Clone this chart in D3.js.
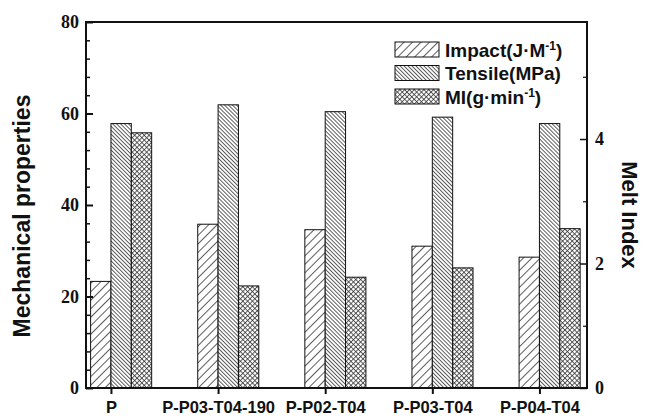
<!DOCTYPE html>
<html>
<head>
<meta charset="utf-8">
<script src="https://cdn.jsdelivr.net/npm/d3@7"></script>
<style>
  body { margin: 0; background: #fff; }
  svg { display: block; }
</style>
</head>
<body>
<div id="chart"></div>
<script>
const categories = ["P", "P-P03-T04-190", "P-P02-T04", "P-P03-T04", "P-P04-T04"];
const impact = [23.3, 35.8, 34.6, 31.0, 28.6];
const tensile = [57.8, 61.9, 60.4, 59.2, 57.8];
const meltIndex = [4.10, 1.64, 1.78, 1.93, 2.56];
const leftTicks = [0, 20, 40, 60, 80];
const leftMinor = [4, 8, 12, 16, 24, 28, 32, 36, 44, 48, 52, 56, 64, 68, 72, 76];
const rightTicks = [0, 2, 4];
const rightMinor = [1, 3, 5];

const width = 645;
const height = 418;
const plotLeft = 86, plotRight = 587, plotTop = 22, plotBottom = 388;

const svg = d3.select("#chart")
    .append("svg")
    .attr("width", width)
    .attr("height", height)
    .style("font-family", "Arial, 'Liberation Sans', sans-serif");

// hatch patterns
const defs = svg.append("defs");

function hatch(id, size, angle, cross) {
    const p = defs.append("pattern")
        .attr("id", id)
        .attr("patternUnits", "userSpaceOnUse")
        .attr("width", size)
        .attr("height", size)
        .attr("patternTransform", `rotate(${angle})`);
    p.append("rect").attr("width", size).attr("height", size).attr("fill", "#fff");
    p.append("line")
        .attr("x1", 0.5).attr("y1", 0).attr("x2", 0.5).attr("y2", size)
        .attr("stroke", "#333").attr("stroke-width", 0.8);
    if (cross) {
        p.append("line")
            .attr("x1", 0).attr("y1", 0.5).attr("x2", size).attr("y2", 0.5)
            .attr("stroke", "#333").attr("stroke-width", 0.8);
    }
}
hatch("pat-impact", 6, 45, false);
hatch("pat-tensile", 2.8, -45, false);
hatch("pat-mi", 3.4, 45, true);

const fills = ["url(#pat-impact)", "url(#pat-tensile)", "url(#pat-mi)"];

const x = d3.scaleLinear()
    .domain([-0.233, 4.444])
    .range([plotLeft, plotRight]);

const y = d3.scaleLinear()
    .domain([0, 80])
    .range([plotBottom, plotTop]);

const yR = d3.scaleLinear()
    .domain([0, 5.88])
    .range([plotBottom, plotTop]);

const bw = x(0.19) - x(0);

// bars: impact left of tick, tensile right of tick, MI after tensile
const bars = [];
categories.forEach((c, i) => {
    bars.push({ i, s: 0, x0: x(i) - bw, y0: y(impact[i]) });
    bars.push({ i, s: 1, x0: x(i), y0: y(tensile[i]) });
    bars.push({ i, s: 2, x0: x(i) + bw, y0: yR(meltIndex[i]) });
});

svg.append("g")
    .selectAll("rect")
    .data(bars)
    .enter()
    .append("rect")
    .attr("x", d => d.x0)
    .attr("y", d => d.y0)
    .attr("width", bw)
    .attr("height", d => plotBottom - d.y0)
    .attr("fill", d => fills[d.s])
    .attr("stroke", "#111")
    .attr("stroke-width", 1);

// frame
svg.append("rect")
    .attr("x", plotLeft)
    .attr("y", plotTop)
    .attr("width", plotRight - plotLeft)
    .attr("height", plotBottom - plotTop)
    .attr("fill", "none")
    .attr("stroke", "#111")
    .attr("stroke-width", 2);

function serifTicks(g) {
    g.attr("font-family", "Liberation Serif").attr("font-size", 18).attr("font-weight", 700);
    g.selectAll("text")
        .attr("fill", "#111")
        .attr("font-family", "Liberation Serif")
        .attr("font-weight", 700)
        .style("font-family", "'Liberation Serif'")
        .style("font-weight", "700")
        .style("font-size", "18px");
}

// left axis
const gL = svg.append("g")
    .attr("transform", `translate(${plotLeft},0)`)
    .call(d3.axisLeft(y).tickValues(leftTicks).tickSize(-7).tickPadding(7).tickFormat(d3.format("d")));
gL.select(".domain").remove();
gL.selectAll("line").attr("stroke", "#111").attr("stroke-width", 2);
serifTicks(gL);

const gLm = svg.append("g")
    .attr("transform", `translate(${plotLeft},0)`)
    .call(d3.axisLeft(y).tickValues(leftMinor).tickSize(-4).tickFormat(""));
gLm.select(".domain").remove();
gLm.selectAll("line").attr("stroke", "#111").attr("stroke-width", 1.5);

// right axis
const gR = svg.append("g")
    .attr("transform", `translate(${plotRight},0)`)
    .call(d3.axisRight(yR).tickValues(rightTicks).tickSize(-7).tickPadding(8).tickFormat(d3.format("d")));
gR.select(".domain").remove();
gR.selectAll("line").attr("stroke", "#111").attr("stroke-width", 1.5);
serifTicks(gR);

const gRm = svg.append("g")
    .attr("transform", `translate(${plotRight},0)`)
    .call(d3.axisRight(yR).tickValues(rightMinor).tickSize(-4).tickFormat(""));
gRm.select(".domain").remove();
gRm.selectAll("line").attr("stroke", "#111").attr("stroke-width", 1.2);

// bottom axis
const gB = svg.append("g")
    .attr("transform", `translate(0,${plotBottom})`)
    .call(d3.axisBottom(x).tickValues(d3.range(categories.length)).tickSize(6).tickPadding(7)
        .tickFormat(i => categories[i]));
gB.select(".domain").remove();
gB.selectAll("line").attr("stroke", "#111").attr("stroke-width", 2);
gB.selectAll("text")
    .style("font-family", "Arial, 'Liberation Sans', sans-serif")
    .style("font-weight", "bold")
    .style("font-size", "16.5px")
    .attr("fill", "#111");

// axis titles
svg.append("text")
    .attr("transform", `translate(30, 216) rotate(-90)`)
    .attr("text-anchor", "middle")
    .style("font-size", "23px")
    .style("font-weight", "bold")
    .attr("fill", "#111")
    .text("Mechanical properties");

svg.append("text")
    .attr("transform", `translate(622, 215) rotate(90)`)
    .attr("text-anchor", "middle")
    .style("font-size", "22px")
    .style("font-weight", "bold")
    .attr("fill", "#111")
    .text("Melt Index");

// legend
const legendLabels = [
    ["Impact(J·M", "-1", ")"],
    ["Tensile(MPa)", "", ""],
    ["MI(g·min", "-1", ")"]
];

const legend = svg.append("g")
    .attr("transform", "translate(395, 42)");

const items = legend.selectAll("g")
    .data(legendLabels)
    .enter()
    .append("g")
    .attr("transform", (d, i) => `translate(0, ${i * 23.5})`);

items.append("rect")
    .attr("width", 44)
    .attr("height", 15)
    .attr("fill", (d, i) => fills[i])
    .attr("stroke", "#111")
    .attr("stroke-width", 1);

const lt = items.append("text")
    .attr("x", 50)
    .attr("y", 14.5)
    .style("font-size", "19px")
    .style("font-weight", "bold")
    .attr("fill", "#111");
lt.append("tspan").text(d => d[0]);
lt.append("tspan")
    .attr("dy", -7)
    .style("font-size", "12px")
    .text(d => d[1]);
lt.append("tspan")
    .attr("dy", d => d[1] ? 7 : 0)
    .text(d => d[2]);
</script>
</body>
</html>
